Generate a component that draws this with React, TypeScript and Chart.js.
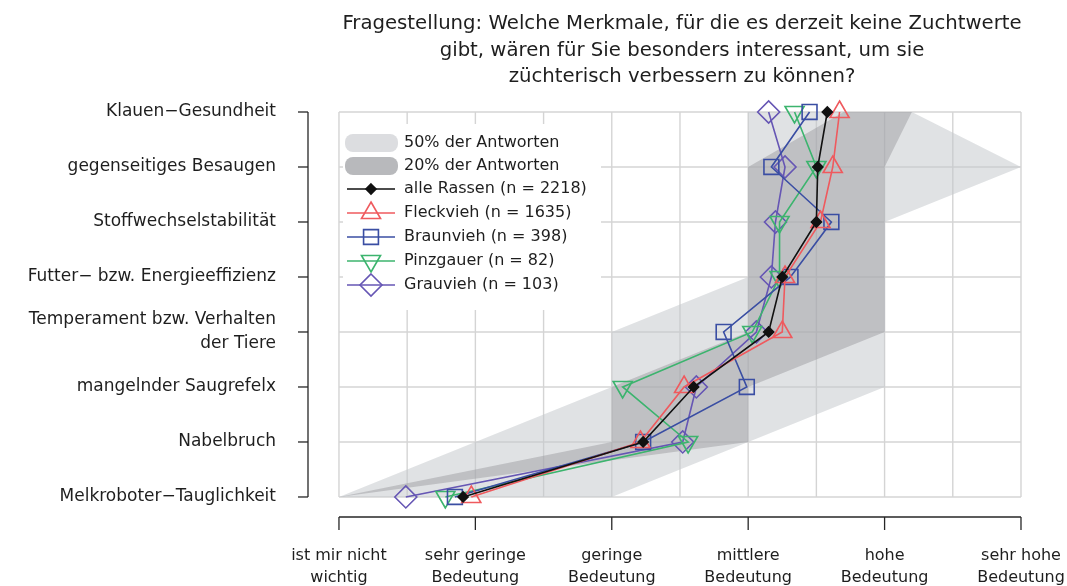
import React, { useEffect, useRef } from 'react';
import { Chart, registerables } from 'chart.js';

Chart.register(...registerables);

// ---------- data ----------
const titleLines = [
  'Fragestellung: Welche Merkmale, für die es derzeit keine Zuchtwerte',
  'gibt, wären für Sie besonders interessant, um sie',
  'züchterisch verbessern zu können?',
];

const categories: (string | string[])[] = [
  'Klauen−Gesundheit',
  'gegenseitiges Besaugen',
  'Stoffwechselstabilität',
  'Futter− bzw. Energieeffizienz',
  ['Temperament bzw. Verhalten', 'der Tiere'],
  'mangelnder Saugrefelx',
  'Nabelbruch',
  'Melkroboter−Tauglichkeit',
];

const xTickValues = [1, 2, 3, 4, 5, 6];
const xTickLabels = [
  ['ist mir nicht', 'wichtig'],
  ['sehr geringe', 'Bedeutung'],
  ['geringe', 'Bedeutung'],
  ['mittlere', 'Bedeutung'],
  ['hohe', 'Bedeutung'],
  ['sehr hohe', 'Bedeutung'],
];

const alleRassen = [4.58, 4.51, 4.5, 4.25, 4.15, 3.6, 3.23, 1.91];
const fleckvieh = [4.67, 4.62, 4.53, 4.27, 4.25, 3.53, 3.21, 1.97];
const braunvieh = [4.45, 4.17, 4.61, 4.31, 3.82, 3.99, 3.23, 1.85];
const pinzgauer = [4.34, 4.5, 4.23, 4.23, 4.03, 3.08, 3.56, 1.78];
const grauvieh = [4.15, 4.27, 4.2, 4.17, 4.06, 3.62, 3.52, 1.49];

const band50Low = [4, 4, 4, 4, 3, 3, 2, 1];
const band50High = [5.2, 6, 5, 5, 5, 5, 4, 3];
const band20Low = [4.7, 4, 4, 4, 4, 3, 3, 1];
const band20High = [5.2, 5, 5, 5, 5, 4, 4, 1];

const band50Label = '50% der Antworten';
const band20Label = '20% der Antworten';

// ---------- styles ----------
const FONT = '"DejaVu Sans", "Liberation Sans", sans-serif';
const TEXT = '#1e1e1e';
const GRID = '#d4d4d4';
const LIGHT_FILL = 'rgba(196,199,204,0.52)';
const DARK_FILL = 'rgba(150,151,155,0.45)';
const LIGHT_SWATCH = '#dcdde0';
const DARK_SWATCH = '#b8b9bc';

type Marker = 'diamond' | 'triUp' | 'triDown' | 'square';
const series = [
  { label: 'alle Rassen (n = 2218)', data: alleRassen, color: '#111111', marker: 'diamond' as Marker, r: 5, filled: true, order: 1 },
  { label: 'Fleckvieh (n = 1635)', data: fleckvieh, color: '#ef5a5e', marker: 'triUp' as Marker, r: 11, filled: false, order: 2 },
  { label: 'Braunvieh (n = 398)', data: braunvieh, color: '#3a4ea3', marker: 'square' as Marker, r: 10.5, filled: false, order: 3 },
  { label: 'Pinzgauer (n = 82)', data: pinzgauer, color: '#3cb46e', marker: 'triDown' as Marker, r: 11, filled: false, order: 4 },
  { label: 'Grauvieh (n = 103)', data: grauvieh, color: '#6656b4', marker: 'diamond' as Marker, r: 11, filled: false, order: 5 },
];

const toPoints = (vals: number[]) => vals.map((v, i) => ({ x: v, y: i }));
const polygon = (low: number[], high: number[]) =>
  toPoints(low).concat(toPoints(high).reverse());

function markerStyle(m: Marker) {
  if (m === 'diamond') return { pointStyle: 'rectRot', rotation: 0 };
  if (m === 'square') return { pointStyle: 'rect', rotation: 0 };
  if (m === 'triDown') return { pointStyle: 'triangle', rotation: 180 };
  return { pointStyle: 'triangle', rotation: 0 };
}

function drawMarker(ctx: CanvasRenderingContext2D, m: Marker, x: number, y: number, r: number) {
  ctx.beginPath();
  if (m === 'diamond') {
    ctx.moveTo(x, y - r); ctx.lineTo(x + r, y); ctx.lineTo(x, y + r); ctx.lineTo(x - r, y);
  } else if (m === 'square') {
    const s = r * Math.SQRT1_2;
    ctx.rect(x - s, y - s, 2 * s, 2 * s);
  } else if (m === 'triUp') {
    ctx.moveTo(x, y - r); ctx.lineTo(x + r * 0.866, y + r * 0.5); ctx.lineTo(x - r * 0.866, y + r * 0.5);
  } else {
    ctx.moveTo(x, y + r); ctx.lineTo(x + r * 0.866, y - r * 0.5); ctx.lineTo(x - r * 0.866, y - r * 0.5);
  }
  ctx.closePath();
}

function roundRect(ctx: CanvasRenderingContext2D, x: number, y: number, w: number, h: number, r: number) {
  ctx.beginPath();
  ctx.moveTo(x + r, y);
  ctx.lineTo(x + w - r, y);
  ctx.arcTo(x + w, y, x + w, y + r, r);
  ctx.lineTo(x + w, y + h - r);
  ctx.arcTo(x + w, y + h, x + w - r, y + h, r);
  ctx.lineTo(x + r, y + h);
  ctx.arcTo(x, y + h, x, y + h - r, r);
  ctx.lineTo(x, y + r);
  ctx.arcTo(x, y, x + r, y, r);
  ctx.closePath();
}

const decorPlugin = {
  id: 'decor',
  beforeDatasetsDraw(chart: any) {
    const { ctx, scales } = chart;
    const xs = scales.x, ys = scales.y;
    const x0 = xs.getPixelForValue(1), x1 = xs.getPixelForValue(6);
    const y0 = ys.getPixelForValue(0), y1 = ys.getPixelForValue(categories.length - 1);
    ctx.save();
    ctx.strokeStyle = GRID;
    ctx.lineWidth = 1.4;
    for (let k = 0; k <= 10; k++) {
      const px = xs.getPixelForValue(1 + k * 0.5);
      ctx.beginPath(); ctx.moveTo(px, y0); ctx.lineTo(px, y1); ctx.stroke();
    }
    categories.forEach((_, i) => {
      const py = ys.getPixelForValue(i);
      ctx.beginPath(); ctx.moveTo(x0, py); ctx.lineTo(x1, py); ctx.stroke();
    });
    ctx.restore();
  },
  afterDraw(chart: any) {
    const { ctx, scales, chartArea } = chart;
    const xs = scales.x, ys = scales.y;
    ctx.save();
    ctx.strokeStyle = '#262626';
    ctx.lineWidth = 1.3;
    ctx.fillStyle = TEXT;

    // y axis
    const ax = chartArea.left;
    const y0 = ys.getPixelForValue(0), y1 = ys.getPixelForValue(categories.length - 1);
    ctx.beginPath(); ctx.moveTo(ax, y0); ctx.lineTo(ax, y1); ctx.stroke();
    ctx.font = `17px ${FONT}`;
    ctx.textAlign = 'right';
    ctx.textBaseline = 'middle';
    categories.forEach((c, i) => {
      const py = ys.getPixelForValue(i);
      ctx.beginPath(); ctx.moveTo(ax - 10, py); ctx.lineTo(ax, py); ctx.stroke();
      if (Array.isArray(c)) {
        ctx.fillText(c[0], ax - 32, py - 12);
        ctx.fillText(c[1], ax - 32, py + 12);
      } else {
        ctx.fillText(c, ax - 32, py);
      }
    });

    // x axis
    const ay = chartArea.bottom;
    const x0 = xs.getPixelForValue(xTickValues[0]);
    const x1 = xs.getPixelForValue(xTickValues[xTickValues.length - 1]);
    ctx.beginPath(); ctx.moveTo(x0, ay); ctx.lineTo(x1, ay); ctx.stroke();
    ctx.font = `16px ${FONT}`;
    ctx.textAlign = 'center';
    xTickValues.forEach((v, i) => {
      const px = xs.getPixelForValue(v);
      ctx.beginPath(); ctx.moveTo(px, ay); ctx.lineTo(px, ay + 13); ctx.stroke();
      ctx.fillText(xTickLabels[i][0], px, ay + 39);
      ctx.fillText(xTickLabels[i][1], px, ay + 61);
    });

    // title
    ctx.font = `19.7px ${FONT}`;
    ctx.textBaseline = 'alphabetic';
    titleLines.forEach((t, i) => ctx.fillText(t, 682, 29 + i * 26.5));

    // legend
    ctx.fillStyle = '#ffffff';
    ctx.fillRect(343, 124, 258, 186);
    ctx.fillStyle = LIGHT_SWATCH;
    roundRect(ctx, 345, 134, 53, 18, 8); ctx.fill();
    ctx.fillStyle = DARK_SWATCH;
    roundRect(ctx, 345, 157, 53, 18, 8); ctx.fill();
    ctx.font = `16px ${FONT}`;
    ctx.textAlign = 'left';
    ctx.textBaseline = 'middle';
    ctx.fillStyle = TEXT;
    ctx.fillText(band50Label, 404, 143);
    ctx.fillText(band20Label, 404, 166);
    series.forEach((s, i) => {
      const ly = 189 + i * 24;
      ctx.strokeStyle = s.color;
      ctx.lineWidth = 1.6;
      ctx.beginPath(); ctx.moveTo(347, ly); ctx.lineTo(395, ly); ctx.stroke();
      drawMarker(ctx, s.marker, 371, ly, s.r);
      if (s.filled) { ctx.fillStyle = s.color; ctx.fill(); }
      ctx.stroke();
      ctx.fillStyle = TEXT;
      ctx.fillText(s.label, 404, ly);
    });
    ctx.restore();
  },
};

export default function App() {
  const ref = useRef<HTMLCanvasElement>(null);
  useEffect(() => {
    const canvas = ref.current;
    if (!canvas) return;
    const datasets: any[] = [
      {
        label: band50Label,
        data: polygon(band50Low, band50High),
        showLine: true,
        fill: 'shape',
        backgroundColor: LIGHT_FILL,
        borderColor: 'rgba(0,0,0,0)',
        borderWidth: 0,
        pointRadius: 0,
        order: 20,
      },
      {
        label: band20Label,
        data: polygon(band20Low, band20High),
        showLine: true,
        fill: 'shape',
        backgroundColor: DARK_FILL,
        borderColor: 'rgba(0,0,0,0)',
        borderWidth: 0,
        pointRadius: 0,
        order: 19,
      },
      ...series.map((s) => {
        const ms = markerStyle(s.marker);
        return {
          label: s.label,
          data: toPoints(s.data),
          showLine: true,
          fill: false,
          borderColor: s.color,
          borderWidth: 1.6,
          pointStyle: ms.pointStyle,
          pointRotation: ms.rotation,
          pointRadius: s.r,
          pointBorderWidth: 1.6,
          pointBorderColor: s.color,
          pointBackgroundColor: s.filled ? s.color : 'rgba(0,0,0,0)',
          order: s.order,
        };
      }),
    ];
    const chart = new Chart(canvas, {
      type: 'scatter',
      data: { datasets },
      options: {
        animation: false,
        responsive: false,
        devicePixelRatio: 1,
        events: [],
        layout: { padding: { left: 308, right: 19, top: 96.6, bottom: 69 } },
        scales: {
          x: { type: 'linear', min: 0.773, max: 6.198, display: false },
          y: { type: 'linear', min: -0.28, max: 7.364, reverse: true, display: false },
        },
        plugins: { legend: { display: false }, tooltip: { enabled: false } },
      },
      plugins: [decorPlugin],
    } as any);
    return () => chart.destroy();
  }, []);
  return (
    <div style={{ position: 'fixed', left: 0, top: 0, width: 1067, height: 586, background: '#ffffff' }}>
      <canvas ref={ref} width={1067} height={586} style={{ display: 'block' }} />
    </div>
  );
}
